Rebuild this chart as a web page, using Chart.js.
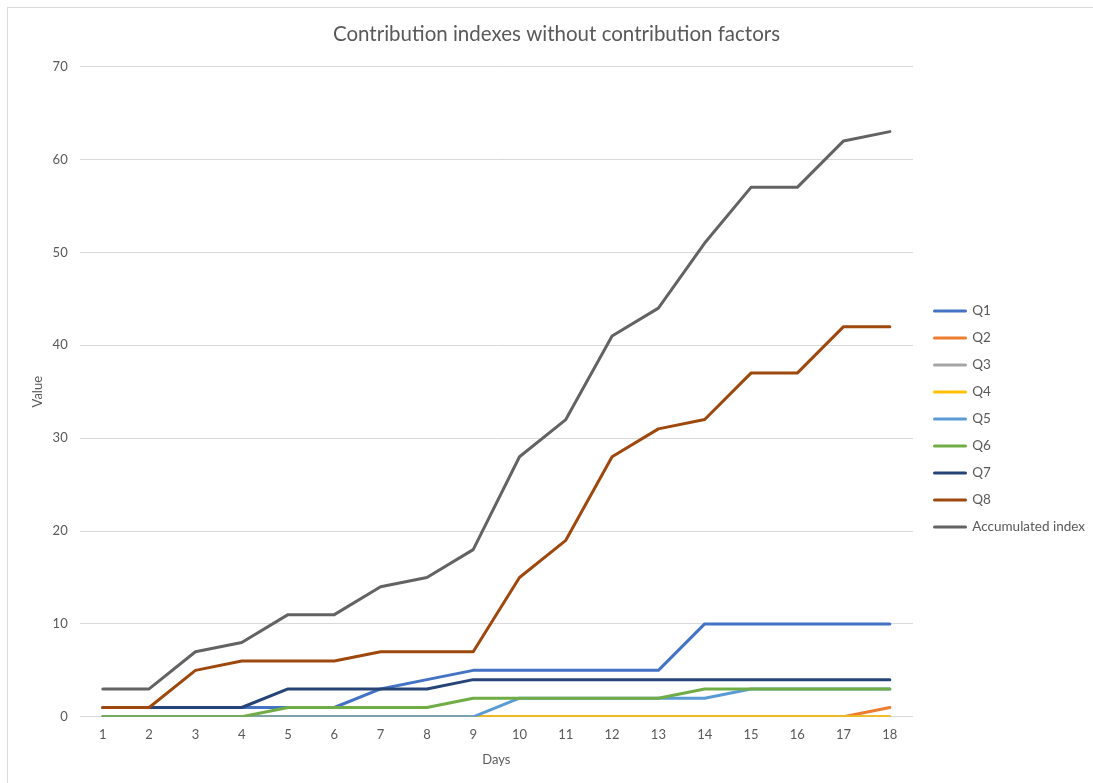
<!DOCTYPE html>
<html>
<head>
<meta charset="utf-8">
<title>Contribution indexes</title>
<script src="https://cdn.jsdelivr.net/npm/chart.js@4.4.1/dist/chart.umd.min.js"></script>
<style>
  html, body { margin: 0; padding: 0; background: #fff; overflow: hidden; }
  #frame { position: absolute; left: 7px; top: 7px; width: 1200px; height: 900px; border: 1px solid #d9d9d9; }
  #wrap { position: absolute; left: 0; top: 0; width: 1093px; height: 783px; }
</style>
</head>
<body>
<div id="frame"></div>
<div id="wrap"><canvas id="myChart" width="1093" height="783"></canvas></div>
<script>
// days on the x axis
var days = ["1", "2", "3", "4", "5", "6", "7", "8", "9", "10", "11", "12", "13", "14", "15", "16", "17", "18"];

// per-question indexes
var q1 = [1, 1, 1, 1, 1, 1, 3, 4, 5, 5, 5, 5, 5, 10, 10, 10, 10, 10];
var q2 = [0, 0, 0, 0, 0, 0, 0, 0, 0, 0, 0, 0, 0, 0, 0, 0, 0, 1];
var q3 = [0, 0, 0, 0, 0, 0, 0, 0, 0, 0, 0, 0, 0, 0, 0, 0, 0, 0];
var q4 = [0, 0, 0, 0, 0, 0, 0, 0, 0, 0, 0, 0, 0, 0, 0, 0, 0, 0];
var q5 = [0, 0, 0, 0, 0, 0, 0, 0, 0, 2, 2, 2, 2, 2, 3, 3, 3, 3];
var q6 = [0, 0, 0, 0, 1, 1, 1, 1, 2, 2, 2, 2, 2, 3, 3, 3, 3, 3];
var q7 = [1, 1, 1, 1, 3, 3, 3, 3, 4, 4, 4, 4, 4, 4, 4, 4, 4, 4];
var q8 = [1, 1, 5, 6, 6, 6, 7, 7, 7, 15, 19, 28, 31, 32, 37, 37, 42, 42];
var accumulated = [3, 3, 7, 8, 11, 11, 14, 15, 18, 28, 32, 41, 44, 51, 57, 57, 62, 63];

var seriesNames = ["Q1", "Q2", "Q3", "Q4", "Q5", "Q6", "Q7", "Q8", "Accumulated index"];
var seriesData = [q1, q2, q3, q4, q5, q6, q7, q8, accumulated];
var seriesColors = ["#4472c4", "#ed7d31", "#a5a5a5", "#ffc000", "#5b9bd5", "#70ad47", "#264478", "#9e480e", "#636363"];

var textColor = "#595959";
Chart.defaults.font.family = "Lato, 'Open Sans', sans-serif";
Chart.defaults.color = textColor;

var datasets = [];
for (var i = 0; i < seriesNames.length; i++) {
  datasets.push({
    label: seriesNames[i],
    data: seriesData[i],
    borderColor: seriesColors[i],
    backgroundColor: seriesColors[i],
    borderWidth: 3,
    pointRadius: 0,
    tension: 0,
    borderJoinStyle: "round",
    borderCapStyle: "round",
    // later series are painted on top
    order: seriesNames.length - i,
  });
}

// move the legend a little right and down
var legendNudge = {
  id: "legendNudge",
  afterLayout: function (chart) {
    chart.legend.left += 8;
    chart.legend.right += 8;
    chart.legend.top += 33;
    chart.legend.bottom += 33;
  },
};

var config = {
  type: "line",
  data: { labels: days, datasets: datasets },
  plugins: [legendNudge],
  options: {
    responsive: false,
    animation: false,
    layout: { padding: { left: 26, right: 6, top: 0, bottom: 11 } },
    plugins: {
      title: {
        display: true,
        text: "Contribution indexes without contribution factors",
        color: textColor,
        font: { size: 20.5, weight: "normal" },
        padding: { top: 22, bottom: 20 },
      },
      legend: {
        position: "right",
        labels: {
          boxWidth: 31,
          boxHeight: 0,
          padding: 13.5,
          color: textColor,
          font: { size: 13.5 },
          sort: function (a, b) {
            return a.datasetIndex - b.datasetIndex;
          },
        },
      },
      tooltip: { enabled: false },
    },
    scales: {
      x: {
        offset: true,
        grid: { display: false, drawTicks: false },
        border: { display: false },
        ticks: { padding: 10, color: textColor, font: { size: 13 }, maxRotation: 0 },
        title: { display: true, text: "Days", color: textColor, font: { size: 13 }, padding: { top: 0, bottom: 4 } },
      },
      y: {
        min: 0,
        max: 70,
        ticks: { stepSize: 10, padding: 12, color: textColor, font: { size: 13 } },
        grid: { color: "#d9d9d9", lineWidth: 1, drawTicks: false },
        border: { display: false },
        title: { display: true, text: "Value", color: textColor, font: { size: 13 }, padding: { top: 4, bottom: -5 } },
      },
    },
  },
};

var myChart = new Chart(document.getElementById("myChart"), config);
</script>
</body>
</html>
